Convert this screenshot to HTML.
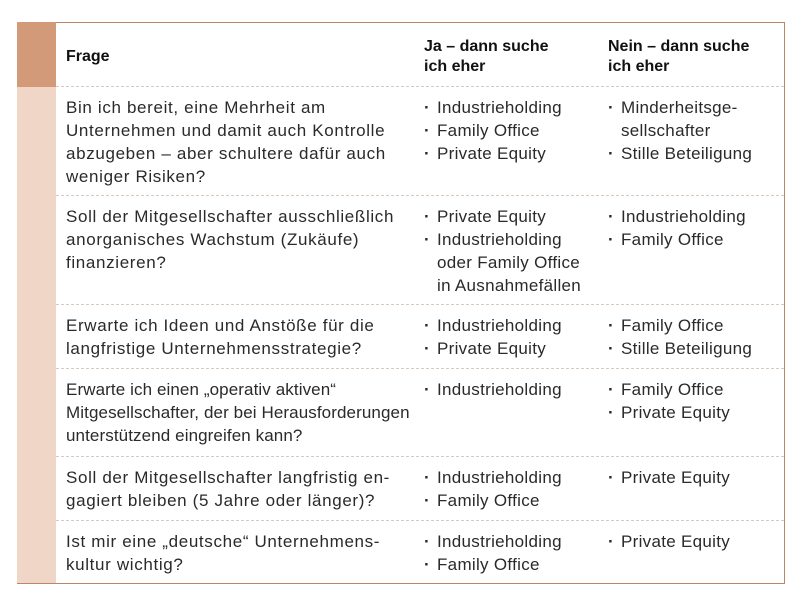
<!DOCTYPE html>
<html><head><meta charset="utf-8"><style>
body{margin:0;width:810px;height:597px;background:#fff;position:relative;overflow:hidden;font-family:"Liberation Sans",sans-serif;color:#2a2a2a;}
.box{position:absolute;left:17px;top:22px;width:767px;height:560px;border:1px solid #b8876a;border-left:none;}
.s1{position:absolute;left:17px;top:22px;width:39px;height:65px;background:#d39a79;}
.s2{position:absolute;left:17px;top:87px;width:39px;height:496px;background:#f0d6c6;}
.sep{position:absolute;left:56px;width:728px;border-top:1px dashed #d8c9bf;}
.t{position:absolute;font-size:17px;line-height:23px;white-space:nowrap;letter-spacing:0.65px;}
.h{position:absolute;font-size:16px;line-height:20px;font-weight:bold;color:#111;}
.b{position:absolute;font-size:17px;line-height:23px;white-space:nowrap;letter-spacing:0.3px;}
.b div:before{content:"·";position:absolute;margin-left:-13px;font-weight:bold;}
.b div.n:before{content:"";}
</style></head><body>
<div class="box"></div><div class="s1"></div><div class="s2"></div>
<div class="sep" style="top:86px"></div>
<div class="sep" style="top:195px"></div>
<div class="sep" style="top:304px"></div>
<div class="sep" style="top:368px"></div>
<div class="sep" style="top:456px"></div>
<div class="sep" style="top:520px"></div>
<div class="h" style="left:66px;top:47px">Frage</div>
<div class="h" style="left:424px;top:37px">Ja – dann suche<br>ich eher</div>
<div class="h" style="left:608px;top:37px">Nein – dann suche<br>ich eher</div>

<div class="t" style="left:66px;top:96px">Bin ich bereit, eine Mehrheit am<br>Unternehmen und damit auch Kontrolle<br>abzugeben – aber schultere dafür auch<br>weniger Risiken?</div>
<div class="b" style="left:437px;top:96px"><div>Industrieholding</div><div>Family Office</div><div>Private Equity</div></div>
<div class="b" style="left:621px;top:96px"><div>Minderheitsge-</div><div class="n">sellschafter</div><div>Stille Beteiligung</div></div>

<div class="t" style="left:66px;top:205px">Soll der Mitgesellschafter ausschließlich<br>anorganisches Wachstum (Zukäufe)<br>finanzieren?</div>
<div class="b" style="left:437px;top:205px"><div>Private Equity</div><div>Industrieholding</div><div class="n">oder Family Office</div><div class="n">in Ausnahmefällen</div></div>
<div class="b" style="left:621px;top:205px"><div>Industrieholding</div><div>Family Office</div></div>

<div class="t" style="left:66px;top:314px">Erwarte ich Ideen und Anstöße für die<br>langfristige Unternehmensstrategie?</div>
<div class="b" style="left:437px;top:314px"><div>Industrieholding</div><div>Private Equity</div></div>
<div class="b" style="left:621px;top:314px"><div>Family Office</div><div>Stille Beteiligung</div></div>

<div class="t" style="left:66px;top:378px;letter-spacing:0.1px">Erwarte ich einen „operativ aktiven“<br>Mitgesellschafter, der bei Herausforderungen<br>unterstützend eingreifen kann?</div>
<div class="b" style="left:437px;top:378px"><div>Industrieholding</div></div>
<div class="b" style="left:621px;top:378px"><div>Family Office</div><div>Private Equity</div></div>

<div class="t" style="left:66px;top:466px">Soll der Mitgesellschafter langfristig en-<br>gagiert bleiben (5 Jahre oder länger)?</div>
<div class="b" style="left:437px;top:466px"><div>Industrieholding</div><div>Family Office</div></div>
<div class="b" style="left:621px;top:466px"><div>Private Equity</div></div>

<div class="t" style="left:66px;top:530px">Ist mir eine „deutsche“ Unternehmens-<br>kultur wichtig?</div>
<div class="b" style="left:437px;top:530px"><div>Industrieholding</div><div>Family Office</div></div>
<div class="b" style="left:621px;top:530px"><div>Private Equity</div></div>
</body></html>
